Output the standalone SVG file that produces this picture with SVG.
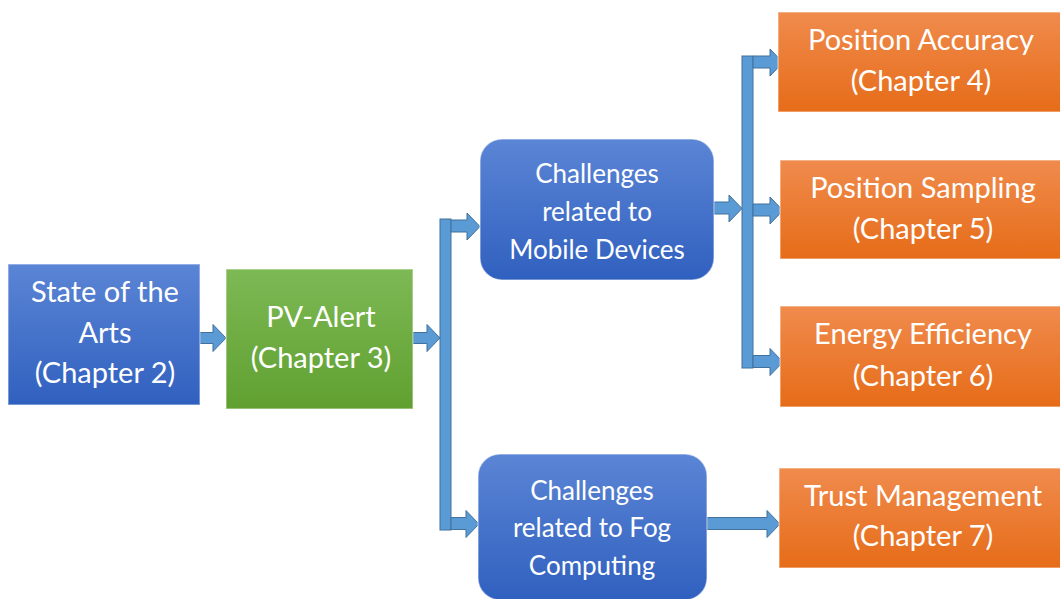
<svg xmlns="http://www.w3.org/2000/svg" width="1060" height="599" viewBox="0 0 1060 599">
  <defs>
    <linearGradient id="gBlue" x1="0" y1="0" x2="0" y2="1">
      <stop offset="0" stop-color="#5b85d5"/>
      <stop offset="1" stop-color="#3060bf"/>
    </linearGradient>
    <linearGradient id="gGreen" x1="0" y1="0" x2="0" y2="1">
      <stop offset="0" stop-color="#7db955"/>
      <stop offset="1" stop-color="#60a030"/>
    </linearGradient>
    <linearGradient id="gOrange" x1="0" y1="0" x2="0" y2="1">
      <stop offset="0" stop-color="#f08b4d"/>
      <stop offset="1" stop-color="#e66c18"/>
    </linearGradient>
  </defs>
  <style>
    .box { stroke: #ffffff; stroke-opacity: 0.45; stroke-width: 1.5; }
    .blue { fill: url(#gBlue); }
    .green { fill: url(#gGreen); }
    .orange { fill: url(#gOrange); }
    .conn { fill: #5b9bd5; stroke: #41719c; stroke-width: 1; }
    text { font-family: Lato, "Open Sans", sans-serif; fill: #ffffff; text-anchor: middle; }
    .big { font-size: 29px; }
    .mid { font-size: 26px; }
  </style>
  <rect width="1060" height="599" fill="#ffffff"/>

  <g id="connectors">
    <polygon class="conn" points="200,332.5 213,332.5 213,324.5 226,338 213,351.5 213,343.5 200,343.5"/>
    <polygon class="conn" points="413,332.5 427,332.5 427,324.5 440,338 427,351.5 427,343.5 413,343.5"/>
    <rect class="conn" x="440" y="219" width="11" height="311"/>
    <polygon class="conn" points="451,220 467,220 467,213 480,226.5 467,240 467,232 451,232"/>
    <polygon class="conn" points="451,517.5 466,517.5 466,510.5 479,524 466,537.5 466,529.5 451,529.5"/>
    <polygon class="conn" points="714,202 729,202 729,195 742,208.5 729,222 729,214 714,214"/>
    <rect class="conn" x="742" y="56" width="11" height="312"/>
    <polygon class="conn" points="753,56 770,56 770,49 783,62.5 770,76 770,68 753,68"/>
    <polygon class="conn" points="753,204 770,204 770,197 783,210.5 770,224 770,216 753,216"/>
    <polygon class="conn" points="753,355.5 770,355.5 770,348.5 783,362 770,375.5 770,367.5 753,367.5"/>
    <polygon class="conn" points="707,517.5 767,517.5 767,510.5 780,524 767,537.5 767,529.5 707,529.5"/>
  </g>

  <g id="state-of-the-arts">
    <rect class="box blue" x="8" y="264" width="192" height="141"/>
    <text class="big" x="105" y="302">State of the</text>
    <text class="big" x="105" y="343">Arts</text>
    <text class="big" x="105" y="383">(Chapter 2)</text>
  </g>

  <g id="pv-alert">
    <rect class="box green" x="226" y="269" width="187" height="140"/>
    <text class="big" x="321" y="327">PV-Alert</text>
    <text class="big" x="321" y="368">(Chapter 3)</text>
  </g>

  <g id="mobile-devices">
    <rect class="box blue" x="480" y="139" width="234" height="141" rx="22" ry="22"/>
    <text class="mid" x="597" y="183">Challenges</text>
    <text class="mid" x="597" y="221">related to</text>
    <text class="mid" x="597" y="259">Mobile Devices</text>
  </g>

  <g id="fog-computing">
    <rect class="box blue" x="478" y="454" width="229" height="146" rx="22" ry="22"/>
    <text class="mid" x="592" y="500">Challenges</text>
    <text class="mid" x="592" y="537">related to Fog</text>
    <text class="mid" x="592" y="575">Computing</text>
  </g>

  <g id="position-accuracy">
    <rect class="box orange" x="778" y="12" width="290" height="100"/>
    <text class="big" x="921" y="50">Position Accuracy</text>
    <text class="big" x="921" y="91">(Chapter 4)</text>
  </g>

  <g id="position-sampling">
    <rect class="box orange" x="780" y="160" width="290" height="99"/>
    <text class="big" x="923" y="198">Position Sampling</text>
    <text class="big" x="923" y="239">(Chapter 5)</text>
  </g>

  <g id="energy-efficiency">
    <rect class="box orange" x="780" y="306" width="290" height="101"/>
    <text class="big" x="923" y="344">Energy Efficiency</text>
    <text class="big" x="923" y="386">(Chapter 6)</text>
  </g>

  <g id="trust-management">
    <rect class="box orange" x="779" y="468" width="290" height="100"/>
    <text class="big" x="923" y="506">Trust Management</text>
    <text class="big" x="923" y="546">(Chapter 7)</text>
  </g>
</svg>
